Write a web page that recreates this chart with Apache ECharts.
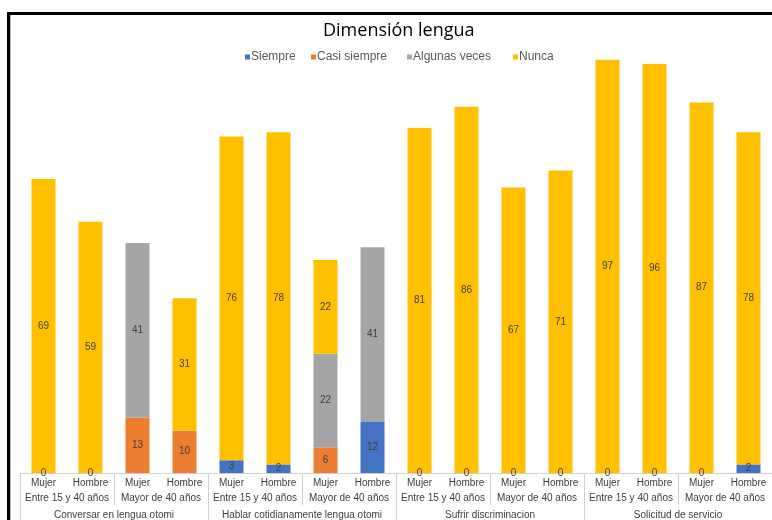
<!DOCTYPE html>
<html>
<head>
<meta charset="utf-8">
<title>Dimensión lengua</title>
<script src="https://cdn.jsdelivr.net/npm/echarts@6/dist/echarts.min.js"></script>
<style>
  html, body { margin: 0; padding: 0; background: #fff; }
  #chart { width: 772px; height: 520px; }
</style>
</head>
<body>
<div id="chart"></div>
<script>
// Category levels of the x axis (innermost first)
const sexLabels = ['Mujer', 'Hombre', 'Mujer', 'Hombre', 'Mujer', 'Hombre', 'Mujer', 'Hombre',
                   'Mujer', 'Hombre', 'Mujer', 'Hombre', 'Mujer', 'Hombre', 'Mujer', 'Hombre'];
const ageLabels = ['Entre 15 y 40 años', 'Mayor de 40 años', 'Entre 15 y 40 años', 'Mayor de 40 años',
                   'Entre 15 y 40 años', 'Mayor de 40 años', 'Entre 15 y 40 años', 'Mayor de 40 años'];
const topicLabels = ['Conversar en lengua otomi', 'Hablar cotidianamente lengua otomi',
                     'Sufrir discriminacion', 'Solicitud de servicio'];

// Series values (null = no segment)
const siempre      = [0, 0, null, null, 3, 2, null, 12, 0, 0, 0, 0, 0, 0, 0, 2];
const casiSiempre  = [null, null, 13, 10, null, null, 6, null, null, null, null, null, null, null, null, null];
const algunasVeces = [null, null, 41, null, null, null, 22, 41, null, null, null, null, null, null, null, null];
const nunca        = [69, 59, null, 31, 76, 78, 22, null, 81, 86, 67, 71, 97, 96, 87, 78];

const seriesNames  = ['Siempre', 'Casi siempre', 'Algunas veces', 'Nunca'];
const seriesData   = [siempre, casiSiempre, algunasVeces, nunca];
const seriesColors = ['#4472C4', '#ED7D31', '#A5A5A5', '#FFC000'];

const font = 'Liberation Sans, Arial, sans-serif';
const tickColor = '#D0D0D0';

// one legend entry per series, each placed on its own
const legendLeft = [240, 306, 402, 508];
const legends = seriesNames.map((name, i) => ({
  top: 46,
  left: legendLeft[i],
  itemWidth: 5,
  itemHeight: 5,
  icon: 'rect',
  data: [name],
  textStyle: { fontFamily: font, fontSize: 12, color: '#595959', padding: [0, 0, 0, -4] }
}));

const chart = echarts.init(document.getElementById('chart'));

chart.setOption({
  animation: false,
  title: {
    text: 'Dimensión lengua',
    left: 318,
    top: 17,
    textStyle: { fontFamily: 'Open Sans, sans-serif', fontSize: 18, fontWeight: 'normal', color: '#000' }
  },
  legend: legends,
  grid: { left: 20, right: 0, top: 47, bottom: 47, containLabel: false },
  xAxis: [
    {
      type: 'category',
      data: sexLabels,
      axisLine: { show: true, lineStyle: { color: tickColor, width: 1 } },
      axisTick: { show: false },
      axisLabel: { interval: 0, margin: 5, fontFamily: font, fontSize: 10, color: '#404040' }
    },
    {
      type: 'category',
      data: ageLabels,
      position: 'bottom',
      axisLine: { show: false },
      axisTick: { show: true, length: 32, lineStyle: { color: tickColor } },
      axisLabel: { interval: 0, margin: 20, fontFamily: font, fontSize: 10, color: '#404040' }
    },
    {
      type: 'category',
      data: topicLabels,
      position: 'bottom',
      axisLine: { show: false },
      axisTick: { show: true, length: 48, lineStyle: { color: tickColor } },
      axisLabel: { interval: 0, margin: 37, fontFamily: font, fontSize: 10, color: '#404040' }
    }
  ],
  yAxis: {
    type: 'value',
    min: 0,
    max: 100,
    show: false,
    splitLine: { show: false }
  },
  series: seriesNames.map((name, i) => ({
    name,
    type: 'bar',
    stack: 'total',
    xAxisIndex: 0,
    barWidth: 24,
    data: seriesData[i],
    itemStyle: { color: seriesColors[i] },
    label: {
      show: true,
      position: 'inside',
      fontFamily: font,
      fontSize: 10,
      color: '#404040'
    }
  })),
  graphic: [
    {
      type: 'polyline',
      silent: true,
      shape: { points: [[8.5, 520], [8.5, 13.5], [772, 13.5]] },
      style: { stroke: '#000', lineWidth: 3, fill: null }
    },
    {
      type: 'line',
      silent: true,
      shape: { x1: 10.5, y1: 15, x2: 10.5, y2: 520 },
      style: { stroke: '#BFBFBF', lineWidth: 1 }
    }
  ]
});
</script>
</body>
</html>
